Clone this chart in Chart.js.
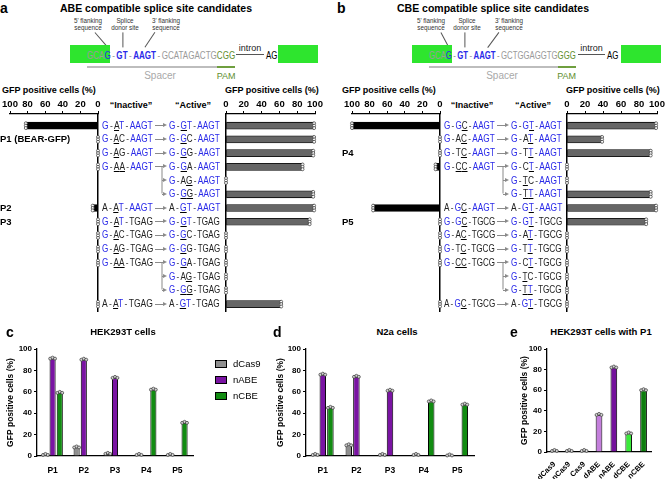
<!DOCTYPE html>
<html>
<head>
<meta charset="utf-8">
<script src="https://cdn.jsdelivr.net/npm/chart.js@4"></script>
<style>
body { margin: 0; background: #fff; }
#fig { position: relative; width: 667px; height: 479px; overflow: hidden; font-family: "Liberation Sans", Arial, sans-serif; color: #000; }
.abs { position: absolute; white-space: nowrap; line-height: 1; }
canvas { position: absolute; }
</style>
</head>
<body>
<div id="fig"></div>
<script>
// ---- data: panel a (ABE candidates), 14 rows top to bottom ----
const abeInactiveSeq = ["GATAAGT", "GACAAGT", "GAGAAGT", "GAAAAGT", "", "", "AATAAGT", "GATTGAG", "GACTGAG", "GAGTGAG", "GAATGAG", "", "", "AATTGAG"];
const abeActiveSeq = ["GGTAAGT", "GGCAAGT", "GGGAAGT", "GGAAAGT", "GAGAAGT", "GGGAAGT", "AGTAAGT", "GGTTGAG", "GGCTGAG", "GGGTGAG", "GGATGAG", "GAGTGAG", "GGGTGAG", "AGTTGAG"];
const abeInactive = [82, 0, 0, 0, null, null, 6, 0, 0, 0, 0, null, null, 0];
const abeActive = [99, 99, 98, 86, 0, 98, 99, 94, 0, 0, 0, 0, 0, 62];

// ---- data: panel b (CBE candidates) ----
const cbeInactiveSeq = ["GGCAAGT", "GACAAGT", "GTCAAGT", "GCCAAGT", "", "", "AGCAAGT", "GGCTGCG", "GACTGCG", "GTCTGCG", "GCCTGCG", "", "", "AGCTGCG"];
const cbeActiveSeq = ["GGTAAGT", "GATAAGT", "GTTAAGT", "GCTAAGT", "GTCAAGT", "GTTAAGT", "AGTAAGT", "GGTTGCG", "GATTGCG", "GTTTGCG", "GCTTGCG", "GTCTGCG", "GTTTGCG", "AGTTGCG"];
const cbeInactive = [100, 0, 0, 5, null, null, 76, 0, 0, 0, 0, null, null, 0];
const cbeActive = [99, 39, 93, 0, 0, 93, 99, 88, 0, 0, 0, 0, 0, 0];

// ---- data: panels c, d ----
const reporters = ["P1", "P2", "P3", "P4", "P5"];
const hekDCas9 = [1, 8, 2, 1, 1];
const hekNABE = [91, 90, 73, null, null];
const hekNCBE = [59, null, null, 62, 31];
const n2aDCas9 = [1, 10, 1, 1, 0.5];
const n2aNABE = [76, 74, 61, null, null];
const n2aNCBE = [45, null, null, 51, 48];

// ---- data: panel e ----
const p1Editors = ["dCas9", "nCas9", "Cas9", "dABE", "nABE", "dCBE", "nCBE"];
const p1Values = [1, 1, 1, 36, 82, 18, 60];
const p1Colors = ["#8f8f8f", "#8f8f8f", "#8f8f8f", "#c47fdc", "#74119c", "#3aea3a", "#0e7d0e"];

const CONSENSUS = "GGTAAGT";
const BLUE = "#2a2ae8";
const ROW_TOP = 95;

Chart.defaults.font.family = '"Liberation Sans", Arial, sans-serif';
Chart.defaults.color = '#000';

const fig = document.getElementById('fig');

function put(html, x, y, css, anchor, fitWidth) {
  const d = document.createElement('div');
  d.className = 'abs';
  d.style.cssText = css || '';
  d.style.left = x + 'px';
  d.style.top = y + 'px';
  const tx = anchor === 'c' ? '-50%' : anchor === 'r' ? '-100%' : '0';
  d.style.transformOrigin = '0 0';
  d.innerHTML = html;
  fig.appendChild(d);
  let t = `translate(${tx},-50%)`;
  // squeeze narrow-font text to the width it has in the figure
  if (fitWidth) t += ` scaleX(${fitWidth / d.offsetWidth})`;
  d.style.transform = t;
  return d;
}
function box(x, y, w, h, css) {
  const d = document.createElement('div');
  d.className = 'abs';
  d.style.cssText = `left:${x}px;top:${y}px;width:${w}px;height:${h}px;` + css;
  fig.appendChild(d);
  return d;
}
function line(x1, y1, x2, y2, color, w) {
  const len = Math.hypot(x2 - x1, y2 - y1), ang = Math.atan2(y2 - y1, x2 - x1) * 180 / Math.PI;
  box(x1, y1 - w / 2, len, w, `background:${color};transform-origin:0 50%;transform:rotate(${ang}deg);`);
}
function arrowHead(x, y, color) {
  box(x - 4, y - 2.5, 0, 0, `border-left:4px solid ${color};border-top:2.5px solid transparent;border-bottom:2.5px solid transparent;`);
}
function mkCanvas(x, y, w, h) {
  const c = document.createElement('canvas');
  c.width = w; c.height = h;
  c.style.cssText = `left:${x}px;top:${y}px;width:${w}px;height:${h}px;`;
  fig.appendChild(c);
  return c;
}

// replicate dots drawn at the end of each bar
const dotsPlugin = {
  id: 'dots',
  afterDatasetsDraw(chart) {
    const ctx = chart.ctx, horiz = chart.options.indexAxis === 'y';
    chart.data.datasets.forEach((ds, di) => {
      const meta = chart.getDatasetMeta(di);
      meta.data.forEach((el, i) => {
        const raw = ds.data[i];
        const v = raw !== null && typeof raw === 'object' ? raw.x : raw;
        if (v === null || v === undefined) return;
        ctx.save();
        ctx.lineWidth = 0.7;
        ctx.strokeStyle = '#333';
        ctx.fillStyle = horiz ? '#fff' : '#d4d4d4';
        [-2.4, 0, 2.4].forEach((o, k) => {
          ctx.beginPath();
          const px = horiz ? el.x : el.x + o;
          const py = horiz ? el.y + o : el.y - (k === 1 ? 1 : 0);
          ctx.arc(px, py, 1.5, 0, Math.PI * 2);
          ctx.fill();
          ctx.stroke();
        });
        ctx.restore();
      });
    });
  }
};

function rowChart(x, w, vals, left, fill, padL, padR) {
  const cv = mkCanvas(x, ROW_TOP, w, 220);
  const pts = [];
  vals.forEach((v, i) => { if (v !== null) pts.push({ x: v, y: i }); });
  return new Chart(cv, {
    type: 'bar',
    data: { datasets: [{ data: pts, backgroundColor: fill, borderColor: '#000', borderWidth: 0.8, borderSkipped: false, barThickness: 7 }] },
    options: {
      indexAxis: 'y', responsive: false, animation: false,
      layout: { padding: { left: padL, right: padR, top: 0, bottom: 4 } },
      plugins: { legend: { display: false }, tooltip: { enabled: false } },
      scales: {
        x: {
          type: 'linear', position: 'top', min: 0, max: 100, reverse: left,
          ticks: { stepSize: 20, font: { size: 9.5, weight: 'bold' }, padding: 1, maxRotation: 0, autoSkip: false },
          grid: { drawOnChartArea: false, color: '#000', tickLength: 3 },
          border: { color: '#000', width: 1.2 },
          afterFit: s => { s.height = 19; }
        },
        y: {
          type: 'linear', position: left ? 'right' : 'left', min: -0.85, max: 13.5, reverse: true, offset: false,
          ticks: { display: false }, grid: { display: false, offset: false },
          border: { color: '#000', width: 1.5 },
          afterFit: s => { s.width = 0; }
        }
      }
    },
    plugins: [dotsPlugin]
  });
}

function seqHtml(s, ul) {
  let out = '';
  for (let k = 0; k < 7; k++) {
    if (k === 1 || k === 3) out += '<span style="color:#555;margin:0 1.5px">-</span>';
    const c = s[k] === CONSENSUS[k] ? BLUE : '#222';
    out += `<span style="color:${c};${ul[k] ? 'text-decoration:underline;text-decoration-color:#000;' : ''}">${s[k]}</span>`;
  }
  return out;
}
const SEQ_CSS = 'font-size:10px;';
const SEQ_W = 51;
function diffMask(a, b) { return [...a].map((c, k) => c !== b[k]); }

function seqRows(chart, inact, act, xIn, xAct, a0, a1, bx) {
  const yp = i => ROW_TOP + chart.scales.y.getPixelForValue(i);
  const parent = [];
  let p = -1;
  act.forEach((s, i) => { if (inact[i]) p = i; parent[i] = p; });
  const actUl = act.map((s, i) => diffMask(s, inact[parent[i]]));
  const grey = '#8a8a8a';
  inact.forEach((s, i) => {
    if (!s) return;
    const kids = act.map((_, j) => j).filter(j => parent[j] === i);
    const ul = [0, 1, 2, 3, 4, 5, 6].map(k => kids.some(j => actUl[j][k]));
    put(seqHtml(s, ul), xIn, yp(i), SEQ_CSS, 'l', SEQ_W);
    line(a0, yp(i), a1 - 3, yp(i), grey, 1);
    arrowHead(a1, yp(i), grey);
    if (kids.length > 1) {
      const last = kids[kids.length - 1];
      line(bx, yp(i), bx, yp(last), grey, 1);
      kids.slice(1).forEach(j => { line(bx, yp(j), a1 - 3, yp(j), grey, 1); arrowHead(a1, yp(j), grey); });
    }
  });
  act.forEach((s, i) => put(seqHtml(s, actUl[i]), xAct, yp(i), SEQ_CSS, 'l', SEQ_W));
  return yp;
}

// ---- top diagrams ----
function diagram(o) {
  put(o.letter, o.lx, 8, 'font-size:14px;font-weight:bold;');
  put(o.title, o.tx, 8, 'font-size:10.5px;font-weight:bold;');
  const small = 'font-size:6.3px;color:#333;text-align:center;line-height:7px;';
  put("5' flanking<br>sequence", o.l5, 24, small, 'c');
  put("Splice<br>donor site", o.lS, 24, small, 'c');
  put("3' flanking<br>sequence", o.l3, 24, small, 'c');
  o.lead.forEach(l => line(l[0], l[1], l[2], l[3], '#555', 0.8));
  box(o.b1, 45, 40, 18, 'background:#2ee52e;');
  box(o.b2, 45, 40, 18, 'background:#2ee52e;');
  const html = o.parts.map(p => `<span style="color:${p[1]};${p[2] ? 'font-weight:bold;' : ''}${p[0] === '-' ? 'margin:0 2px;' : ''}">${p[0]}</span>`).join('');
  const d = put(html, o.seqX, 54.5, 'font-size:11px;', 'l', o.seqW);
  const fr = fig.getBoundingClientRect();
  const spans = d.querySelectorAll('span');
  const pam = spans[spans.length - 1].getBoundingClientRect();
  const startX = spans[0].getBoundingClientRect().left - fr.left;
  const pamL = pam.left - fr.left, pamR = pam.right - fr.left;
  line(startX, 67, pamL, 67, '#bdbdbd', 2);
  line(pamL, 67, pamR, 67, '#6f9f3f', 2);
  put('Spacer', o.spX, 76, 'font-size:10px;color:#a8a8a8;', 'c');
  put('PAM', (pamL + pamR) / 2, 76, 'font-size:9px;color:#5f8f2f;', 'c');
  line(o.in1, 54.5, o.in2, 54.5, '#555', 1.8);
  put('intron', (o.in1 + o.in2) / 2, 48, 'font-size:9px;color:#222;', 'c');
  put('AG', o.agX, 54.5, 'font-size:11px;color:#000;', 'l', 11.5);
}

const grey = '#9a9a9a', green = '#5f8f2f';
diagram({
  letter: 'a', lx: 0, title: 'ABE compatible splice site candidates', tx: 60,
  b1: 70, b2: 278, seqX: 87, seqW: 148,
  parts: [['GCA', grey], ['G', BLUE], ['-', grey], ['GT', BLUE, 1], ['-', grey], ['AAGT', BLUE, 1], ['-', grey], ['GCATAGACTG', grey], ['CGG', green]],
  spX: 160, in1: 236, in2: 264, agX: 265.5,
  l5: 88, lS: 125, l3: 166, lead: [[95, 32, 108, 47], [123, 32, 123, 47], [155, 32, 145, 47]]
});
diagram({
  letter: 'b', lx: 337, title: 'CBE compatible splice site candidates', tx: 397,
  b1: 412, b2: 621, seqX: 429, seqW: 147,
  parts: [['GCA', grey], ['G', BLUE], ['-', grey], ['GT', BLUE, 1], ['-', grey], ['AAGT', BLUE, 1], ['-', grey], ['GCTGGAGGTG', grey], ['GGG', green]],
  spX: 502, in1: 578, in2: 605, agX: 607,
  l5: 431, lS: 467, l3: 509, lead: [[441, 32, 449, 47], [465, 32, 465, 47], [499, 32, 488, 47]]
});

// ---- panels a and b: bar charts + sequences ----
const axT = 'font-size:9px;font-weight:bold;';
put('GFP positive cells (%)', 2, 90, axT);
put('GFP positive cells (%)', 225, 90, axT);
put('GFP positive cells (%)', 342, 90, axT);
put('GFP positive cells (%)', 566, 90, axT);
put('“Inactive”', 131, 105, axT, 'c');
put('“Active”', 193, 105, axT, 'c');
put('“Inactive”', 472, 105, axT, 'c');
put('“Active”', 533, 105, axT, 'c');

const aLeft = rowChart(0, 104, abeInactive, true, '#000', 10, 6);
const aRight = rowChart(222, 104, abeActive, false, '#666', 4, 11);
const bLeft = rowChart(342, 104, cbeInactive, true, '#000', 10, 6);
const bRight = rowChart(563, 104, cbeActive, false, '#666', 4, 10);

const ypA = seqRows(aLeft, abeInactiveSeq, abeActiveSeq, 102, 169, 155, 167, 162);
const ypB = seqRows(bLeft, cbeInactiveSeq, cbeActiveSeq, 444, 511, 497, 509, 503);
const rowLbl = 'font-size:9.5px;font-weight:bold;';
put('P1 (BEAR-GFP)', 0, ypA(1), rowLbl);
put('P2', 0, ypA(6), rowLbl);
put('P3', 0, ypA(7), rowLbl);
put('P4', 342, ypB(2), rowLbl);
put('P5', 342, ypB(7), rowLbl);

// ---- panels c, d, e ----
function vChart(x, w, labels, datasets, o) {
  const cv = mkCanvas(x, 340, w, 139);
  datasets.forEach(ds => Object.assign(ds, { categoryPercentage: o.cat, barPercentage: o.bar, borderColor: '#000', borderWidth: 1 }));
  return new Chart(cv, {
    type: 'bar',
    data: { labels, datasets },
    options: {
      responsive: false, animation: false,
      layout: { padding: { top: 9, right: o.padR, left: 0, bottom: 0 } },
      plugins: { legend: { display: false }, tooltip: { enabled: false } },
      scales: {
        x: {
          ticks: { font: { size: o.xfs, weight: 'bold' }, maxRotation: o.rot, minRotation: o.rot, padding: o.rot ? 0 : 2, autoSkip: false },
          grid: { display: false }, border: { color: '#000', width: 1.3 },
          afterFit: s => { s.height = o.xh; }
        },
        y: {
          min: 0, max: 100,
          ticks: { stepSize: 20, font: { size: 8, weight: 'bold' }, padding: 2 },
          grid: { drawOnChartArea: false, color: '#000', tickLength: 3 },
          border: { color: '#000', width: 1.3 },
          title: { display: true, text: 'GFP positive cells (%)', font: { size: 8.5, weight: 'bold' }, padding: { top: o.tp, bottom: 0 } },
          afterFit: s => { s.width = o.yw; }
        }
      }
    },
    plugins: [dotsPlugin]
  });
}
const cGray = '#8f8f8f', cPurple = '#7a14a3', cGreen = '#128c12';
const letterCss = 'font-size:14px;font-weight:bold;';
const titleCss = 'font-size:9.5px;font-weight:bold;';

put('c', 6, 332, letterCss);
put('HEK293T cells', 123, 332, titleCss, 'c');
vChart(0, 200, reporters, [
  { label: 'dCas9', data: hekDCas9, backgroundColor: cGray },
  { label: 'nABE', data: hekNABE, backgroundColor: cPurple },
  { label: 'nCBE', data: hekNCBE, backgroundColor: cGreen }
], { cat: 0.69, bar: 0.85, padR: 7, xfs: 8.5, rot: 0, xh: 23, tp: 6, yw: 37 });

[['dCas9', cGray], ['nABE', cPurple], ['nCBE', cGreen]].forEach((l, k) => {
  box(215, 360 + k * 16, 12, 8, `background:${l[1]};border:1px solid #000;box-sizing:border-box;`);
  put(l[0], 233, 364 + k * 16, 'font-size:9.5px;');
});

put('d', 273, 332, letterCss);
put('N2a cells', 397, 332, titleCss, 'c');
vChart(270, 210, reporters, [
  { label: 'dCas9', data: n2aDCas9, backgroundColor: cGray },
  { label: 'nABE', data: n2aNABE, backgroundColor: cPurple },
  { label: 'nCBE', data: n2aNCBE, backgroundColor: cGreen }
], { cat: 0.68, bar: 0.85, padR: 6, xfs: 8.5, rot: 0, xh: 23, tp: 6, yw: 36 });

put('e', 510, 332, letterCss);
put('HEK293T cells with P1', 601, 332, titleCss, 'c');
vChart(498, 162, p1Editors, [
  { label: 'P1', data: p1Values, backgroundColor: p1Colors }
], { cat: 0.9, bar: 0.5, padR: 9, xfs: 7.5, rot: 45, xh: 27, tp: 22, yw: 49 });
</script>
</body>
</html>
